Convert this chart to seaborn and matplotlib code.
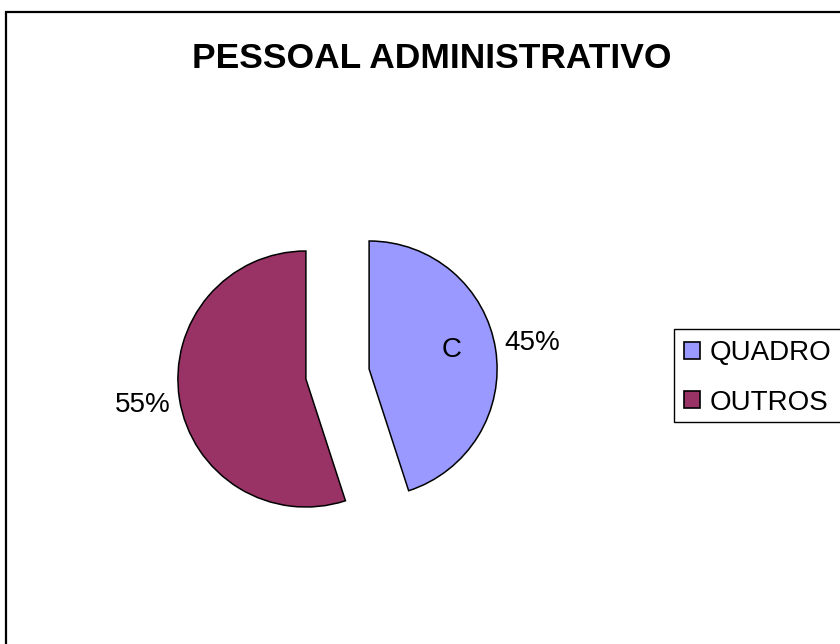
#!/usr/bin/env python3

import seaborn as sns
import matplotlib.pyplot as plt
from matplotlib.patches import Patch, Rectangle

categories = ["QUADRO", "OUTROS"]
values = [45, 55]
colors = ["#9999FF", "#993366"]
title = "PESSOAL ADMINISTRATIVO"

sns.set_theme(style="white")
plt.rcParams["font.family"] = ["Liberation Sans", "DejaVu Sans"]
plt.rcParams["text.color"] = "black"

W, H = 840, 644
fig = plt.figure(figsize=(W / 100, H / 100), dpi=100)
ax = fig.add_axes([0, 0, 1, 1])

# chart frame (runs off the right and bottom edge)
fig.patches.append(Rectangle((6, -20), 900, H - 12 + 20, transform=None,
                             fill=False, edgecolor="black", linewidth=1.6))

# pie in pixel-sized data units; explode is absolute there
wedges, texts, autotexts = ax.pie(
    values,
    colors=colors,
    startangle=90,
    counterclock=False,
    explode=[32, 32],
    center=(337.5, H - 374),
    radius=128,
    autopct="%1.0f%%",
    pctdistance=1.29,
    wedgeprops=dict(edgecolor="black", linewidth=1.1),
    textprops=dict(fontsize=20, color="black"),
    frame=True,
)
ax.set_xlim(0, W)
ax.set_ylim(0, H)
ax.axis("off")

ax.text(452, H - 350, "C", fontsize=20, ha="center", va="center",
        color="black")

fig.text(432 / W, 1 - 58 / H, title, fontsize=25.5, fontweight="bold",
         ha="center", va="center", color="black")

# legend box
fig.patches.append(Rectangle((674, H - 422), 300, 93, transform=None,
                             fill=True, facecolor="white", edgecolor="black",
                             linewidth=1.0))
handles = [Patch(facecolor=c, edgecolor="black", linewidth=1.2) for c in colors]
leg = fig.legend(handles, categories, loc="upper left",
                 bbox_to_anchor=(684 / W, 1 - 340 / H), frameon=False,
                 fontsize=20, handlelength=0.58, handleheight=0.58,
                 handletextpad=0.35, labelspacing=0.85, borderpad=0,
                 borderaxespad=0)
for t in leg.get_texts():
    t.set_color("black")

fig.savefig("out.png", dpi=100)
plt.close()
